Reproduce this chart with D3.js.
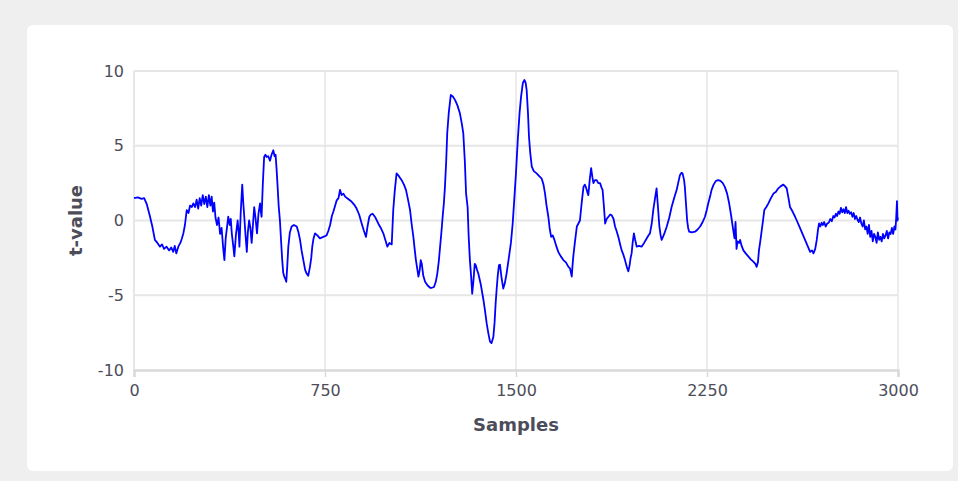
<!DOCTYPE html>
<html>
<head>
<meta charset="utf-8">
<script src="https://cdn.jsdelivr.net/npm/d3@7"></script>
<style>
  html, body { margin: 0; padding: 0; background: #efefef; }
  svg { display: block; font-family: "DejaVu Sans", Verdana, sans-serif; }
</style>
</head>
<body>
<script>
// sample positions and t-values
var samples = [
  0, 15, 30, 40, 50, 63, 72, 82, 92, 102, 110, 118, 128, 138, 146, 154, 160, 166, 174, 182,
  188, 194, 200, 207, 214, 220, 227, 233, 240, 246, 252, 258, 264, 270, 276, 282, 288, 294, 300, 305,
  310, 315, 320, 326, 332, 338, 344, 350, 355, 360, 365, 370, 376, 380, 384, 389, 394, 400, 407, 411,
  414, 419, 425, 429, 433, 438, 443, 447, 452, 457, 462, 467, 472, 477, 483, 489, 495, 498, 501, 506,
  511, 516, 521, 527, 534, 540, 547, 552, 556, 560, 564, 568, 573, 578, 582, 586, 590, 594, 598, 602,
  606, 612, 619, 628, 639, 646, 652, 658, 665, 672, 678, 684, 691, 696, 700, 705, 711, 720, 730, 743,
  756, 763, 770, 777, 783, 790, 796, 803, 809, 815, 822, 829, 840, 855, 865, 874, 884, 894, 903, 911,
  917, 924, 930, 937, 948, 959, 969, 979, 987, 995, 1003, 1012, 1018, 1024, 1031, 1041, 1051, 1060, 1068, 1076,
  1084, 1090, 1097, 1102, 1107, 1112, 1117, 1122, 1126, 1130, 1136, 1143, 1153, 1163, 1170, 1178, 1185, 1191, 1197, 1202,
  1207, 1212, 1217, 1221, 1226, 1230, 1236, 1244, 1252, 1261, 1270, 1280, 1287, 1293, 1299, 1304, 1310, 1314, 1319, 1324,
  1328, 1333, 1338, 1342, 1347, 1352, 1362, 1372, 1378, 1385, 1392, 1398, 1404, 1411, 1416, 1420, 1424, 1428, 1433, 1437,
  1443, 1450, 1456, 1463, 1471, 1480, 1487, 1493, 1500, 1507, 1514, 1520, 1527, 1533, 1538, 1542, 1547, 1551, 1556, 1562,
  1570, 1581, 1592, 1601, 1608, 1614, 1620, 1627, 1632, 1638, 1644, 1651, 1658, 1666, 1676, 1686, 1696, 1706, 1712, 1719,
  1722, 1725, 1731, 1739, 1745, 1751, 1758, 1765, 1770, 1774, 1780, 1784, 1790, 1795, 1800, 1804, 1810, 1817, 1823, 1830,
  1836, 1840, 1845, 1850, 1856, 1863, 1870, 1876, 1883, 1889, 1895, 1902, 1909, 1915, 1922, 1928, 1935, 1941, 1946, 1950,
  1954, 1958, 1963, 1968, 1974, 1983, 1993, 2003, 2013, 2020, 2026, 2033, 2039, 2046, 2052, 2057, 2063, 2068, 2072, 2082,
  2092, 2102, 2111, 2121, 2131, 2138, 2144, 2150, 2154, 2160, 2163, 2168, 2172, 2176, 2180, 2190, 2203, 2213, 2223, 2233,
  2242, 2249, 2255, 2262, 2268, 2276, 2285, 2294, 2303, 2312, 2320, 2329, 2337, 2345, 2353, 2358, 2362, 2366, 2370, 2376,
  2380, 2386, 2393, 2402, 2412, 2422, 2432, 2440, 2445, 2450, 2454, 2460, 2465, 2470, 2475, 2483, 2491, 2501, 2511, 2520,
  2530, 2540, 2550, 2556, 2563, 2570, 2576, 2586, 2596, 2605, 2615, 2625, 2635, 2645, 2655, 2662, 2668, 2675, 2681, 2686,
  2690, 2695, 2700, 2705, 2710, 2716, 2722, 2728, 2734, 2740, 2746, 2751, 2756, 2761, 2766, 2771, 2776, 2781, 2786, 2791,
  2796, 2801, 2806, 2811, 2816, 2821, 2826, 2831, 2836, 2841, 2846, 2851, 2856, 2861, 2866, 2871, 2876, 2881, 2886, 2891,
  2896, 2901, 2906, 2911, 2916, 2921, 2926, 2931, 2936, 2941, 2946, 2951, 2956, 2961, 2966, 2971, 2976, 2981, 2986, 2990,
  2993, 2996, 2998, 3000
];

var tValues = [
  1.5, 1.55, 1.45, 1.5, 1.1, 0.25, -0.4, -1.3, -1.5, -1.75, -1.6, -1.9, -1.75, -2.0, -1.8, -2.1, -1.7, -2.2, -1.75, -1.5,
  -1.2, -0.85, -0.3, 0.7, 0.5, 1.0, 0.9, 1.15, 0.9, 1.4, 0.8, 1.5, 1.0, 1.7, 1.1, 1.6, 0.9, 1.7, 1.0, 1.6,
  0.6, 1.2, 0.2, -0.3, 0.2, -0.9, -0.5, -1.8, -2.65, -1.2, -0.5, 0.25, -0.3, 0.1, -0.86, -1.6, -2.4, -1.0, 0.0, -0.8,
  -1.75, 0.5, 2.4, 1.2, 0.25, -1.0, -2.1, -0.8, 0.0, -0.5, -1.5, -0.3, 0.9, 0.2, -0.86, 0.5, 1.15, 0.6, 0.25, 2.5,
  4.25, 4.4, 4.25, 4.3, 4.0, 4.4, 4.7, 4.3, 4.4, 3.4, 2.25, 1.0, 0.0, -1.5, -2.65, -3.5, -3.75, -3.9, -4.1, -3.0,
  -1.75, -0.8, -0.4, -0.3, -0.4, -0.8, -1.3, -2.0, -2.65, -3.3, -3.55, -3.7, -3.1, -2.5, -1.75, -1.2, -0.86, -1.0, -1.2, -1.1,
  -1.0, -0.7, -0.3, 0.3, 0.6, 1.0, 1.35, 1.5, 2.05, 1.7, 1.8, 1.6, 1.45, 1.25, 1.05, 0.8, 0.4, -0.2, -0.7, -1.1,
  -0.4, 0.25, 0.4, 0.45, 0.2, -0.2, -0.5, -0.86, -1.3, -1.75, -1.5, -1.6, 0.7, 2.0, 3.15, 2.95, 2.7, 2.4, 2.05, 1.4,
  0.7, -0.2, -1.1, -1.9, -2.65, -3.2, -3.75, -3.3, -2.65, -2.9, -3.7, -4.1, -4.35, -4.5, -4.5, -4.45, -4.1, -3.55, -2.7, -1.75,
  -0.8, 0.25, 1.2, 2.25, 4.0, 5.85, 7.2, 8.4, 8.3, 8.05, 7.7, 7.15, 6.5, 5.85, 4.0, 1.8, 0.9, -1.0, -2.65, -3.8,
  -4.9, -4.0, -2.9, -3.0, -3.3, -3.55, -4.3, -5.3, -6.0, -6.9, -7.6, -8.1, -8.2, -7.8, -6.8, -5.55, -4.6, -3.75, -3.0, -2.95,
  -3.8, -4.55, -4.2, -3.55, -2.6, -1.5, -0.2, 1.35, 3.2, 5.4, 7.2, 8.3, 9.2, 9.4, 9.2, 8.7, 7.2, 5.6, 4.5, 3.6,
  3.3, 3.15, 2.95, 2.8, 2.4, 1.8, 1.0, 0.25, -0.5, -1.1, -1.0, -1.3, -1.7, -2.1, -2.4, -2.65, -2.8, -3.1, -3.2, -3.75,
  -3.0, -2.4, -1.5, -0.4, -0.2, 0.0, 1.2, 2.25, 2.4, 2.25, 1.9, 1.7, 2.8, 3.5, 2.9, 2.5, 2.7, 2.7, 2.5, 2.5,
  2.2, 2.05, 1.0, -0.2, 0.1, 0.25, 0.4, 0.35, 0.1, -0.4, -0.7, -1.1, -1.6, -2.0, -2.3, -2.65, -3.1, -3.4, -3.0, -2.5,
  -2.2, -1.5, -0.86, -1.3, -1.75, -1.7, -1.75, -1.5, -1.2, -1.0, -0.86, -0.2, 0.7, 1.5, 2.15, 1.0, -0.4, -1.0, -1.3, -0.9,
  -0.4, 0.2, 0.9, 1.5, 2.05, 2.6, 3.05, 3.2, 3.15, 2.7, 2.25, 1.0, 0.0, -0.5, -0.75, -0.8, -0.75, -0.6, -0.4, -0.1,
  0.25, 0.7, 1.15, 1.6, 2.05, 2.4, 2.65, 2.7, 2.65, 2.5, 2.25, 1.8, 1.15, 0.3, -0.65, -1.2, -0.1, -1.9, -1.4, -1.5,
  -1.3, -1.7, -2.0, -2.2, -2.4, -2.6, -2.75, -2.9, -3.1, -2.8, -2.0, -1.3, -0.65, 0.0, 0.7, 0.9, 1.15, 1.5, 1.8, 1.9,
  2.15, 2.3, 2.4, 2.3, 2.15, 1.5, 0.9, 0.6, 0.25, -0.1, -0.5, -0.9, -1.3, -1.7, -2.1, -2.0, -2.2, -1.9, -1.3, -0.6,
  -0.2, -0.4, -0.15, -0.3, -0.1, -0.4, -0.2, -0.15, 0.1, -0.05, 0.3, 0.2, 0.45, 0.3, 0.6, 0.45, 0.85, 0.55, 0.75, 0.5,
  0.9, 0.5, 0.65, 0.45, 0.55, 0.25, 0.5, 0.1, 0.3, 0.05, -0.1, 0.2, -0.2, -0.4, 0.0, -0.6, -0.4, -0.9, -0.3, -1.1,
  -0.7, -1.4, -0.9, -1.1, -1.5, -0.8, -1.3, -1.1, -1.4, -0.9, -1.2, -1.0, -0.7, -1.2, -0.8, -0.9, -0.5, -0.9, -0.4, -0.6,
  0.2, 1.3, 0.0, 0.2
];

var xTicks = [0, 750, 1500, 2250, 3000],
    yTicks = [-10, -5, 0, 5, 10];

var width = 958,
    height = 481,
    plotLeft = 134, plotRight = 898,
    plotTop = 71, plotBottom = 370,
    textColor = "#4d4d5a";

var svg = d3.select("body").append("svg")
    .attr("width", width)
    .attr("height", height);

svg.append("rect")
    .attr("x", 27).attr("y", 25)
    .attr("width", 926).attr("height", 446)
    .attr("rx", 6)
    .attr("fill", "#fff");

var x = d3.scaleLinear().domain([0, 3000]).range([plotLeft, plotRight]),
    y = d3.scaleLinear().domain([-10, 10]).range([plotBottom, plotTop]);

// grid
svg.append("g")
    .selectAll("line")
    .data(yTicks.filter(function(d) { return d > -10; }))
    .enter().append("line")
    .attr("x1", plotLeft).attr("x2", plotRight)
    .attr("y1", function(d) { return y(d); })
    .attr("y2", function(d) { return y(d); })
    .attr("stroke", "#e6e6e6")
    .attr("stroke-width", 2);

svg.append("g")
    .selectAll("line")
    .data(xTicks)
    .enter().append("line")
    .attr("x1", function(d) { return x(d); })
    .attr("x2", function(d) { return x(d); })
    .attr("y1", plotTop).attr("y2", plotBottom)
    .attr("stroke", "#e6e6e6")
    .attr("stroke-width", function(d) { return d === 0 ? 2 : 1.5; });

// plain hyphen for negatives, like the original labels
function plain(d) { return String(d); }

// x axis
var xAxis = svg.append("g")
    .attr("transform", "translate(0," + plotBottom + ")")
    .call(d3.axisBottom(x).tickValues(xTicks).tickSize(7).tickPadding(8).tickFormat(plain));
xAxis.select(".domain").attr("stroke", "#d9d9d9").attr("stroke-width", 2.5);
xAxis.selectAll(".tick line").attr("stroke", "#d9d9d9").attr("stroke-width", 1.5);
xAxis.selectAll("text")
    .attr("fill", textColor)
    .style("font-size", "16px")
    .style("font-family", "DejaVu Sans, sans-serif");

// y axis
var yAxis = svg.append("g")
    .attr("transform", "translate(" + plotLeft + ",0)")
    .call(d3.axisLeft(y).tickValues(yTicks).tickSize(0).tickPadding(10).tickFormat(plain));
yAxis.select(".domain").remove();
yAxis.selectAll("text")
    .attr("fill", textColor)
    .style("font-size", "16px")
    .style("font-family", "DejaVu Sans, sans-serif");

// titles
svg.append("text")
    .attr("x", (plotLeft + plotRight) / 2)
    .attr("y", 431)
    .attr("text-anchor", "middle")
    .attr("fill", textColor)
    .style("font-size", "18px")
    .style("font-weight", "bold")
    .text("Samples");

svg.append("text")
    .attr("transform", "translate(82," + (plotTop + plotBottom) / 2 + ") rotate(-90)")
    .attr("text-anchor", "middle")
    .attr("fill", textColor)
    .style("font-size", "18px")
    .style("font-weight", "bold")
    .text("t-value");

// signal
var line = d3.line()
    .x(function(d, i) { return x(samples[i]); })
    .y(function(d) { return y(d); });

svg.append("path")
    .datum(tValues)
    .attr("fill", "none")
    .attr("stroke", "#0000ff")
    .attr("stroke-width", 1.8)
    .attr("stroke-linejoin", "round")
    .attr("d", line);
</script>
</body>
</html>
